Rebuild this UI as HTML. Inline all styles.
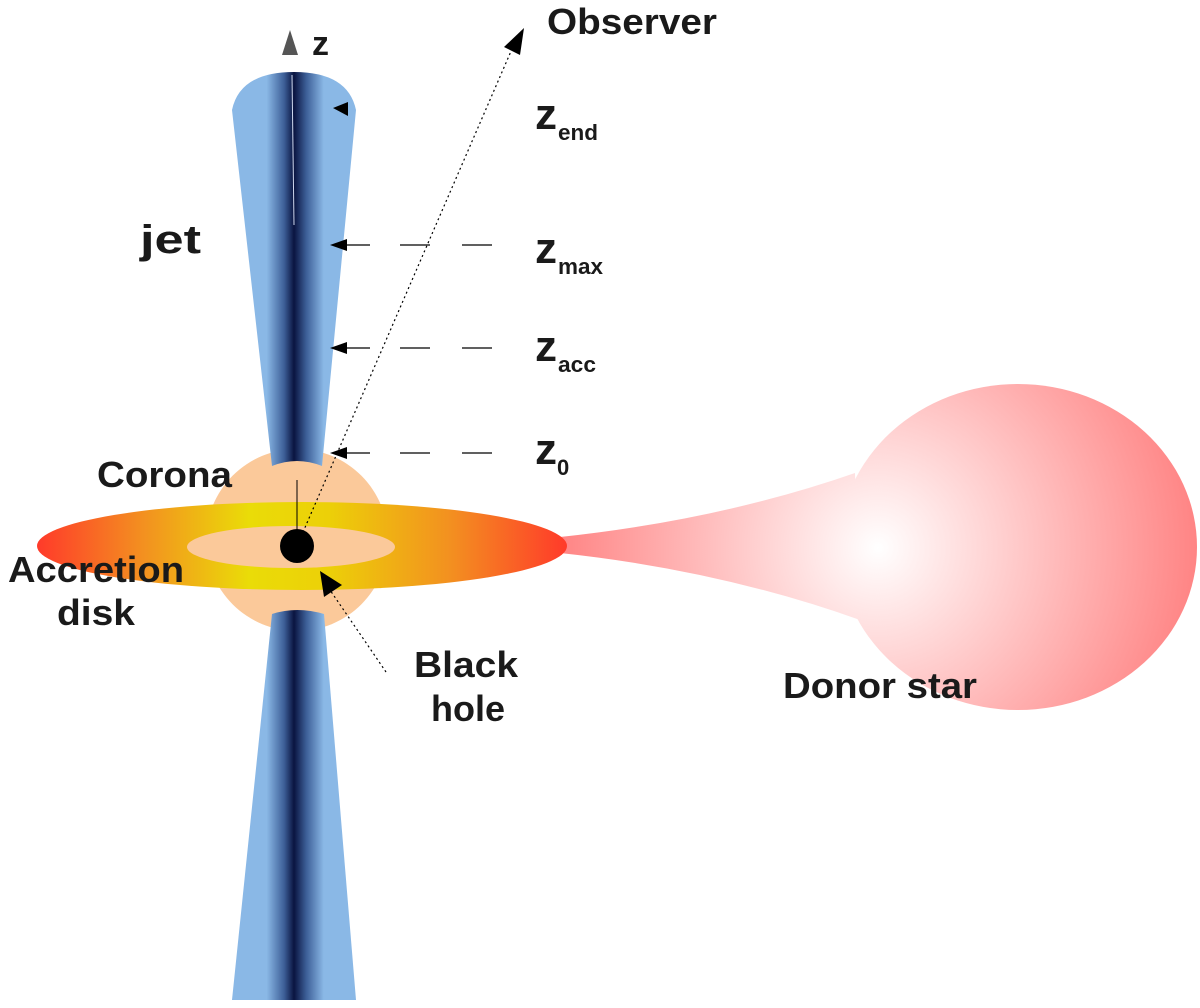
<!DOCTYPE html>
<html><head><meta charset="utf-8"><style>
html,body{margin:0;padding:0;background:#fff;}
svg{display:block;}
text{font-family:"Liberation Sans",sans-serif;font-weight:bold;fill:#1a1a1a;}
</style></head><body>
<svg width="1200" height="1008" viewBox="0 0 1200 1008" xmlns="http://www.w3.org/2000/svg">
<defs>
<linearGradient id="jet" x1="0" x2="1" y1="0" y2="0">
<stop offset="0" stop-color="#8ab8e6"/><stop offset="0.28" stop-color="#8ab8e6"/>
<stop offset="0.42" stop-color="#3d5f98"/><stop offset="0.5" stop-color="#0a1440"/>
<stop offset="0.6" stop-color="#3d5f98"/><stop offset="0.74" stop-color="#8ab8e6"/><stop offset="1" stop-color="#8ab8e6"/>
</linearGradient>
<linearGradient id="disk" x1="37" x2="567" y1="0" y2="0" gradientUnits="userSpaceOnUse">
<stop offset="0" stop-color="#ff3a2a"/><stop offset="0.2" stop-color="#f39020"/>
<stop offset="0.4" stop-color="#eadc08"/><stop offset="0.55" stop-color="#ecd008"/>
<stop offset="0.78" stop-color="#f39020"/><stop offset="1" stop-color="#ff3a2a"/>
</linearGradient>
<radialGradient id="star" cx="878" cy="548" r="330" gradientUnits="userSpaceOnUse">
<stop offset="0" stop-color="#ffffff"/><stop offset="1" stop-color="#ff8080"/>
</radialGradient>
</defs>
<!-- star & stream -->
<path d="M560 537 Q720 520 855 473 L860 620 Q720 570 560 553 Z" fill="url(#star)"/>
<ellipse cx="1018" cy="547" rx="179" ry="163" fill="url(#star)"/>
<!-- corona -->
<circle cx="297" cy="540" r="91" fill="#fbc99a"/>
<!-- jets -->
<path d="M272 466 L232 110 Q240 72 294 72 Q348 72 356 110 L322 466 Q297 456 272 466 Z" fill="url(#jet)"/>
<path d="M272 614 Q297 606 324 614 L356 1000 L232 1000 Z" fill="url(#jet)"/>
<!-- disk -->
<ellipse cx="302" cy="546" rx="265" ry="44" fill="url(#disk)"/>
<ellipse cx="291" cy="547" rx="104" ry="21" fill="#fbc99a"/>
<circle cx="297" cy="546" r="17" fill="#000"/>
<line x1="297" y1="480" x2="297" y2="546" stroke="#000" stroke-width="1"/>
<line x1="292" y1="75" x2="294" y2="225" stroke="#cfd8ee" stroke-width="1"/>
<!-- observer -->
<line x1="297" y1="546" x2="515" y2="42" stroke="#000" stroke-width="1.2" stroke-dasharray="2,3"/>
<polygon points="524,28 504,47 520,55" fill="#000"/>
<!-- z axis -->
<polygon points="290,30 282,55 298,55" fill="#555"/>
<text x="312" y="55" font-size="34">z</text>
<!-- level arrows -->
<polygon points="333,108 348,102 348,116" fill="#000"/>
<g stroke="#000" stroke-width="1.2">
<line x1="340" y1="245" x2="370" y2="245"/><line x1="400" y1="245" x2="430" y2="245"/><line x1="462" y1="245" x2="492" y2="245"/>
<line x1="340" y1="348" x2="370" y2="348"/><line x1="400" y1="348" x2="430" y2="348"/><line x1="462" y1="348" x2="492" y2="348"/>
<line x1="340" y1="453" x2="370" y2="453"/><line x1="400" y1="453" x2="430" y2="453"/><line x1="462" y1="453" x2="492" y2="453"/>
</g>
<polygon points="330,245 347,239 347,251" fill="#000"/>
<polygon points="330,348 347,342 347,354" fill="#000"/>
<polygon points="330,453 347,447 347,459" fill="#000"/>
<!-- black hole arrow -->
<line x1="386" y1="672" x2="330" y2="590" stroke="#000" stroke-width="1.2" stroke-dasharray="2,3"/>
<polygon points="320,571 324,597 342,585" fill="#000"/>
<!-- labels -->
<text x="547" y="34" font-size="36" textLength="170" lengthAdjust="spacingAndGlyphs">Observer</text>
<text x="535" y="129" font-size="44" textLength="22" lengthAdjust="spacingAndGlyphs">z</text><text x="558" y="140" font-size="22" textLength="40" lengthAdjust="spacingAndGlyphs">end</text>
<text x="535" y="263" font-size="44" textLength="22" lengthAdjust="spacingAndGlyphs">z</text><text x="558" y="274" font-size="22" textLength="45" lengthAdjust="spacingAndGlyphs">max</text>
<text x="535" y="361" font-size="44" textLength="22" lengthAdjust="spacingAndGlyphs">z</text><text x="558" y="372" font-size="22" textLength="38" lengthAdjust="spacingAndGlyphs">acc</text>
<text x="535" y="464" font-size="44" textLength="22" lengthAdjust="spacingAndGlyphs">z</text><text x="557" y="475" font-size="22">0</text>
<text x="140" y="253" font-size="40" textLength="61" lengthAdjust="spacingAndGlyphs">jet</text>
<text x="97" y="487" font-size="36" textLength="135" lengthAdjust="spacingAndGlyphs">Corona</text>
<text x="8" y="582" font-size="36" textLength="176" lengthAdjust="spacingAndGlyphs">Accretion</text>
<text x="57" y="625" font-size="36" textLength="78" lengthAdjust="spacingAndGlyphs">disk</text>
<text x="414" y="677" font-size="36" textLength="104" lengthAdjust="spacingAndGlyphs">Black</text>
<text x="431" y="721" font-size="36" textLength="74" lengthAdjust="spacingAndGlyphs">hole</text>
<text x="783" y="698" font-size="36" textLength="194" lengthAdjust="spacingAndGlyphs">Donor star</text>
</svg>
</body></html>
